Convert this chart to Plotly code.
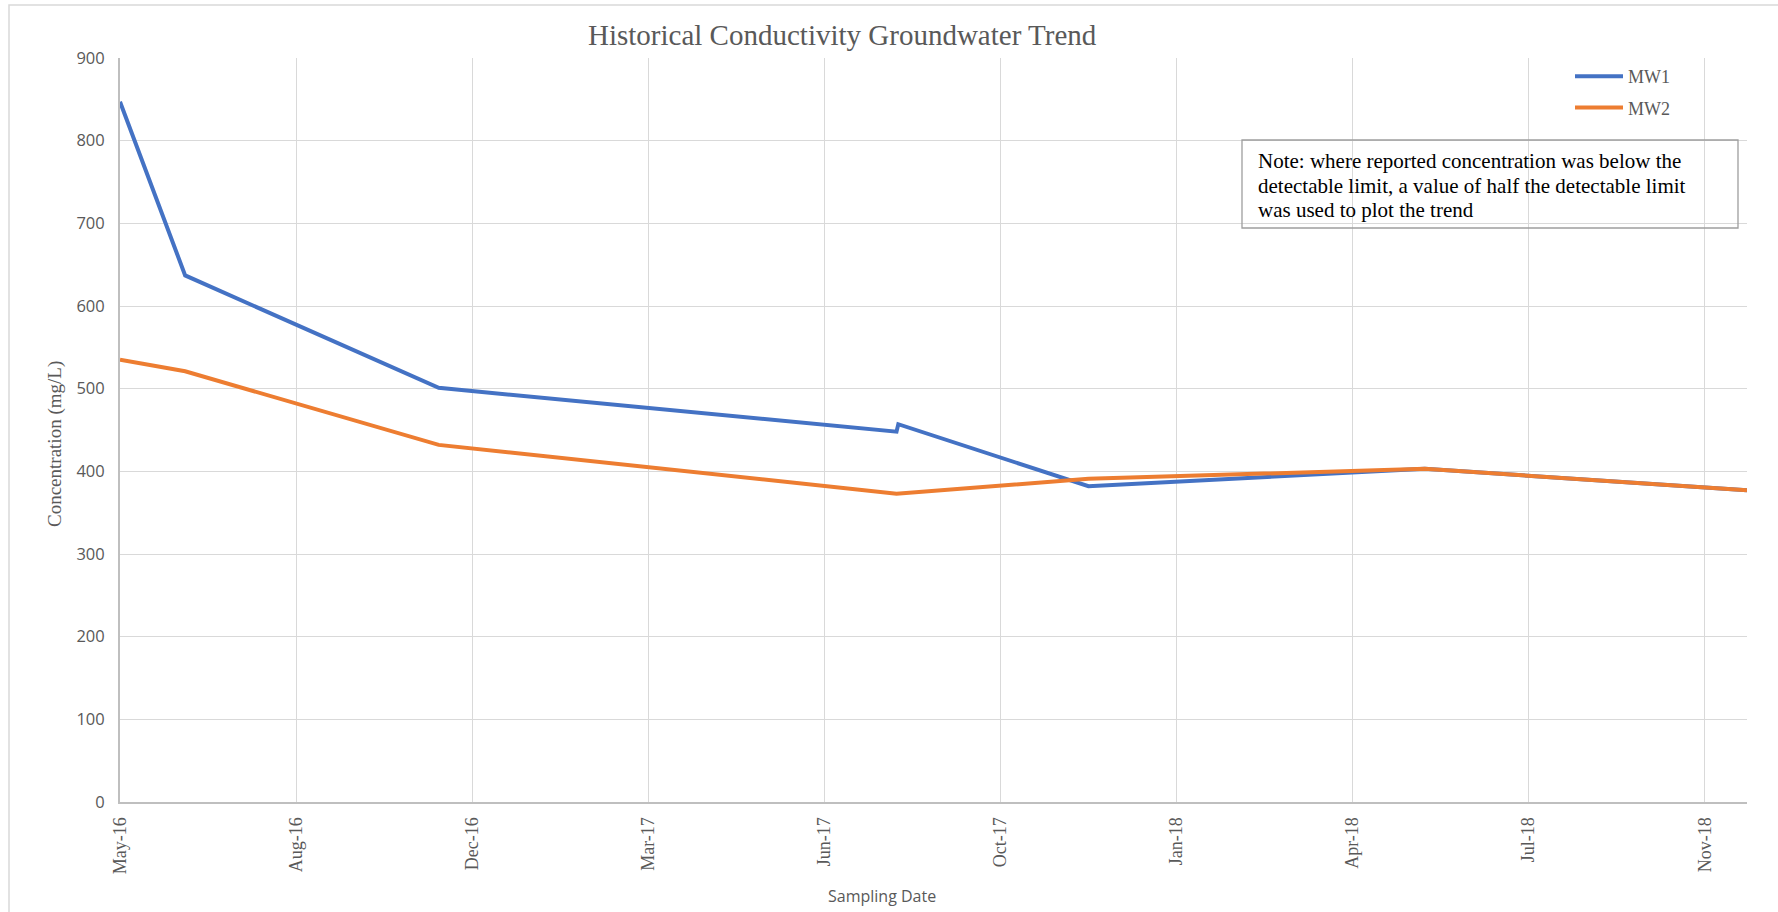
import plotly.graph_objects as go

# Sampling dates and measured conductivity (mg/L) for each monitoring well
mw1_dates = ["2016-05-20", "2016-06-26", "2016-11-17", "2017-08-04", "2017-08-05",
             "2017-11-21", "2018-05-31", "2018-11-30"]
mw1_values = [847, 637, 501, 448, 457, 382, 403, 377]

mw2_dates = ["2016-05-20", "2016-06-26", "2016-11-17", "2017-08-04",
             "2017-11-21", "2018-05-31", "2018-11-30"]
mw2_values = [535, 521, 432, 373, 391, 403, 377]

series_names = ["MW1", "MW2"]
series_colors = ["#4472C4", "#ED7D31"]

title_text = "Historical Conductivity Groundwater Trend"
y_title = "Concentration (mg/L)"
x_title = "Sampling Date"
note_lines = [
    "Note: where reported concentration was below the",
    "detectable limit, a value of half the detectable limit",
    "was used to plot the trend",
]

W, H = 1778, 912
L, R, T, B = 120, 31, 58, 110
PW, PH = W - L - R, H - T - B


def px(x):
    return (x - L) / PW


def py(y):
    return (H - B - y) / PH


SERIF = "Liberation Serif, Times New Roman, serif"
SANS = "Open Sans, Arial, sans-serif"
GREY = "#595959"
GRID = "#D9D9D9"

fig = go.Figure()
for i, (d, v) in enumerate([(mw1_dates, mw1_values), (mw2_dates, mw2_values)]):
    fig.add_trace(go.Scatter(
        x=d, y=v, mode="lines", name=series_names[i],
        legendgroup=series_names[i],
        line=dict(color=series_colors[i], width=4),
    ))

fig.update_layout(
    width=W, height=H,
    margin=dict(l=L, r=R, t=T, b=B),
    paper_bgcolor="white", plot_bgcolor="white",
    showlegend=True,
    legend=dict(
        x=px(1570), y=py(58), xanchor="left", yanchor="top",
        font=dict(family=SERIF, size=18, color=GREY),
        bgcolor="rgba(0,0,0,0)", borderwidth=0,
        tracegroupgap=5, traceorder="grouped",
        itemwidth=48,
    ),
    xaxis=dict(
        type="date",
        range=["2016-05-20", "2018-11-30"],
        tick0="2016-05-20", dtick=100 * 86400000,
        tickformat="%b-%y", tickangle=-90,
        tickfont=dict(family=SERIF, size=18, color=GREY),
        showgrid=True, gridcolor=GRID, gridwidth=1.3,
        showline=True, linecolor="#BFBFBF", linewidth=2,
        ticks="outside", ticklen=6, tickcolor="rgba(0,0,0,0)",
        zeroline=False,
    ),
    yaxis=dict(
        range=[0, 900], dtick=100,
        tickfont=dict(family=SANS, size=16.5, color=GREY),
        showgrid=True, gridcolor=GRID, gridwidth=1.3,
        showline=True, linecolor="#BFBFBF", linewidth=2,
        ticks="outside", ticklen=10, tickcolor="rgba(0,0,0,0)",
        zeroline=False,
    ),
)

annotations = [
    dict(text=title_text, x=px(842), y=py(35), xref="paper", yref="paper",
         xanchor="center", yanchor="middle", showarrow=False,
         font=dict(family=SERIF, size=29, color=GREY)),
    dict(text=y_title, x=px(55), y=py(444), xref="paper", yref="paper",
         xanchor="center", yanchor="middle", showarrow=False, textangle=-90,
         font=dict(family=SERIF, size=19, color=GREY)),
    dict(text=x_title, x=px(882), y=py(896), xref="paper", yref="paper",
         xanchor="center", yanchor="middle", showarrow=False,
         font=dict(family=SANS, size=16, color=GREY)),
]
for k, line in enumerate(note_lines):
    annotations.append(dict(
        text=line, x=px(1256), y=py(161 + 24.5 * k), xref="paper", yref="paper",
        xanchor="left", yanchor="middle", showarrow=False,
        font=dict(family=SERIF, size=21, color="#000000")))
fig.update_layout(annotations=annotations)

shapes = [
    # note frame
    dict(type="rect", xref="paper", yref="paper",
         x0=px(1242), x1=px(1738), y0=py(140), y1=py(228),
         line=dict(color="#9E9E9E", width=1.3), fillcolor="rgba(0,0,0,0)"),
    # chart area frame
    dict(type="rect", xref="paper", yref="paper",
         x0=px(9), x1=px(1800), y0=py(5), y1=py(930),
         line=dict(color=GRID, width=1.5), fillcolor="rgba(0,0,0,0)", layer="below"),
]
fig.update_layout(shapes=shapes)

fig.write_html("out.html")
